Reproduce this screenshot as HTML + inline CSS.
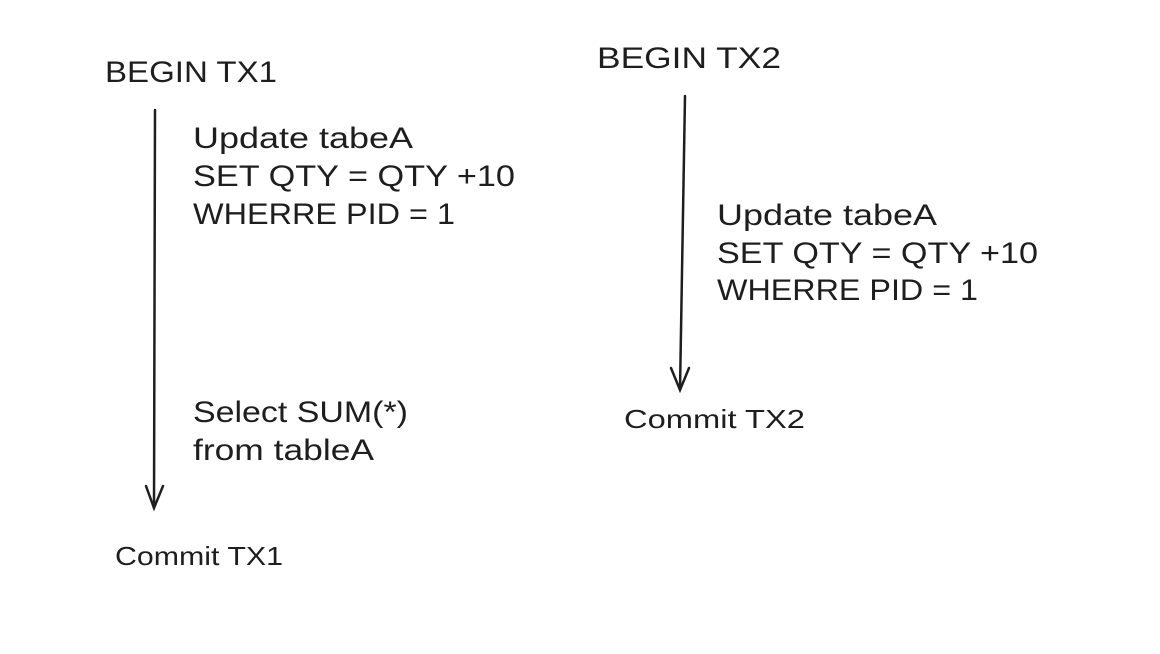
<!DOCTYPE html>
<html><head><meta charset="utf-8"><style>
html,body{margin:0;padding:0;background:#fff;}
svg{display:block}
text{font-family:"Liberation Sans",sans-serif;fill:#1e1e1e;}
</style></head><body>
<svg width="1160" height="654" viewBox="0 0 1160 654" xmlns="http://www.w3.org/2000/svg">
<rect width="1160" height="654" fill="#fff"/>
<g font-size="30">
<text x="105" y="82" textLength="172" lengthAdjust="spacingAndGlyphs">BEGIN TX1</text>
<text x="193" y="148" textLength="220" lengthAdjust="spacingAndGlyphs">Update tabeA</text>
<text x="193" y="186" textLength="322" lengthAdjust="spacingAndGlyphs">SET QTY = QTY +10</text>
<text x="193" y="224" textLength="262" lengthAdjust="spacingAndGlyphs">WHERRE PID = 1</text>
<text x="193" y="422" textLength="215" lengthAdjust="spacingAndGlyphs">Select SUM(*)</text>
<text x="193" y="460" textLength="181" lengthAdjust="spacingAndGlyphs">from tableA</text>
<text x="597" y="68" textLength="184" lengthAdjust="spacingAndGlyphs">BEGIN TX2</text>
<text x="717" y="225" textLength="220" lengthAdjust="spacingAndGlyphs">Update tabeA</text>
<text x="717" y="263" textLength="321" lengthAdjust="spacingAndGlyphs">SET QTY = QTY +10</text>
<text x="717" y="300" textLength="261" lengthAdjust="spacingAndGlyphs">WHERRE PID = 1</text>
</g>
<g font-size="26">
<text x="115" y="565" textLength="168" lengthAdjust="spacingAndGlyphs">Commit TX1</text>
<text x="624" y="428" textLength="181" lengthAdjust="spacingAndGlyphs">Commit TX2</text>
</g>
<g stroke="#1e1e1e" stroke-width="2.5" fill="none" stroke-linecap="round">
<path d="M155 110 L154 508"/>
<path d="M146 486 L154 508 L163 486"/>
<path d="M685 96 L680 390"/>
<path d="M671 368 L680 390 L689 368"/>
</g>
</svg>
</body></html>
